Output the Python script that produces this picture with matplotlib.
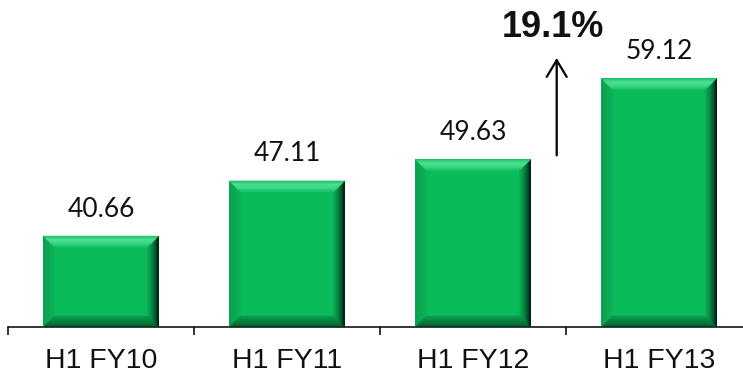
import numpy as np
import matplotlib
matplotlib.use("Agg")
import matplotlib.pyplot as plt
from matplotlib.patches import Polygon
from matplotlib.colors import to_rgb

# Data
categories = ["H1 FY10", "H1 FY11", "H1 FY12", "H1 FY13"]
values = [40.66, 47.11, 49.63, 59.12]
value_labels = ["40.66", "47.11", "49.63", "59.12"]
growth_label = "19.1%"

Y_MIN, Y_MAX = 30.0, 68.3

FACE = "#0abb5a"
# gradient stops from outer edge (t=0) to inner edge (t=1) for each bevel side
BEVEL = {
    "top": [(0.0, "#1cc064"), (0.35, "#4fe396"), (0.7, "#3dd887"), (1.0, "#18c465")],
    "left": [(0.0, "#0a9e4e"), (1.0, "#0db357")],
    "right": [(0.0, "#000000"), (0.3, "#03502a"), (0.7, "#078f46"), (1.0, "#0aa853")],
    "bottom": [(0.0, "#02331a"), (0.25, "#066a36"), (1.0, "#0a9c4e")],
}
BEVEL_PX = 11
N_STRIPS = 14


def grad(stops, t):
    for (t0, c0), (t1, c1) in zip(stops[:-1], stops[1:]):
        if t0 <= t <= t1:
            f = (t - t0) / (t1 - t0) if t1 > t0 else 0
            a, b = np.array(to_rgb(c0)), np.array(to_rgb(c1))
            return tuple(a + (b - a) * f)
    return to_rgb(stops[-1][1])


fig = plt.figure(figsize=(7.43, 3.75), dpi=100)
fig.patch.set_facecolor("white")
W, H = 743, 375
ax_left_px, ax_right_px, ax_bottom_px = 8, 752, 327
ax = fig.add_axes([ax_left_px / W, (H - ax_bottom_px) / H,
                   (ax_right_px - ax_left_px) / W, ax_bottom_px / H])
ax.set_facecolor("white")

x = np.arange(len(categories))
bar_w = 0.62
ax.set_xlim(-0.5, len(categories) - 0.5)
ax.set_ylim(Y_MIN, Y_MAX)

heights = [v - Y_MIN for v in values]
ax.bar(x, heights, bottom=Y_MIN, width=bar_w, color=FACE, edgecolor="none", zorder=2)

# pixel -> data scale factors for the bevel
p0 = ax.transData.transform((0, 0))
p1 = ax.transData.transform((1, 1))
sx = 1.0 / (p1[0] - p0[0])
sy = 1.0 / (p1[1] - p0[1])

for xi, v in zip(x, values):
    x0, x1 = xi - bar_w / 2, xi + bar_w / 2
    y0, y1 = Y_MIN, v
    depths = np.linspace(0, BEVEL_PX, N_STRIPS + 1)
    for i in range(N_STRIPS):
        a, b = depths[i], depths[i + 1]
        t = (i + 0.5) / N_STRIPS
        polys = {
            "top": [(x0 + a * sx, y1 - a * sy), (x1 - a * sx, y1 - a * sy),
                    (x1 - b * sx, y1 - b * sy), (x0 + b * sx, y1 - b * sy)],
            "bottom": [(x0 + a * sx, y0 + a * sy), (x1 - a * sx, y0 + a * sy),
                       (x1 - b * sx, y0 + b * sy), (x0 + b * sx, y0 + b * sy)],
            "left": [(x0 + a * sx, y0 + a * sy), (x0 + a * sx, y1 - a * sy),
                     (x0 + b * sx, y1 - b * sy), (x0 + b * sx, y0 + b * sy)],
            "right": [(x1 - a * sx, y0 + a * sy), (x1 - a * sx, y1 - a * sy),
                      (x1 - b * sx, y1 - b * sy), (x1 - b * sx, y0 + b * sy)],
        }
        for side in ("left", "right", "bottom", "top"):
            c = grad(BEVEL[side], t)
            ax.add_patch(Polygon(polys[side], closed=True, facecolor=c,
                                 edgecolor=c, linewidth=0.3, zorder=3))

# value labels
for xi, v, lab in zip(x, values, value_labels):
    ax.annotate(lab, (xi, v), xytext=(0, 14), textcoords="offset points",
                ha="center", va="baseline", fontsize=19, family="Lato",
                color="#111111")

# growth arrow between the last two bars
ax.annotate("", xy=(2.45, 61.5), xytext=(2.45, 50.1),
            arrowprops=dict(arrowstyle="->,head_length=0.6,head_width=0.36",
                            color="black", lw=1.6, mutation_scale=20,
                            shrinkA=0, shrinkB=0))
ax.text(2.43, 64.0, growth_label, ha="center", va="baseline", fontsize=26,
        fontweight="bold", family="Liberation Sans", color="#111111")

# axes styling
for s in ("left", "right", "top"):
    ax.spines[s].set_visible(False)
ax.spines["bottom"].set_linewidth(1.1)
ax.spines["bottom"].set_color("black")
ax.set_yticks([])
ax.set_xticks(x)
ax.set_xticklabels(categories, fontsize=20.5, family="Liberation Sans", color="#111111")
ax.tick_params(axis="x", which="major", length=0, pad=15)
ax.set_xticks(np.arange(-0.5, len(categories)), minor=True)
ax.tick_params(axis="x", which="minor", length=6, width=1.1, color="black", direction="out")

fig.savefig("out.png", dpi=100, facecolor="white")
